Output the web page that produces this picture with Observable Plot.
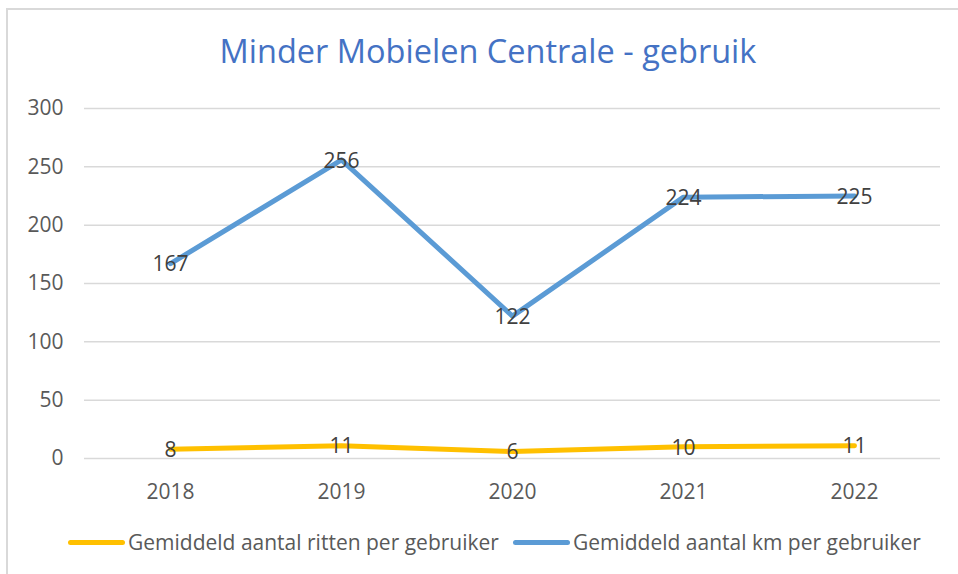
<!DOCTYPE html>
<html><head><meta charset="utf-8">
<script src="https://cdn.jsdelivr.net/npm/d3@7"></script>
<script src="https://cdn.jsdelivr.net/npm/@observablehq/plot@0.6"></script>
<style>
body{margin:0;background:#fff;}
#wrap{position:relative;width:958px;height:574px;overflow:hidden;font-family:"Open Sans",sans-serif;}
#frame{position:absolute;left:6px;top:8px;width:1000px;height:600px;border-top:2px solid #d9d9d9;border-left:2px solid #d9d9d9;}
#title{position:absolute;left:0;top:28px;width:976px;text-align:center;font-size:32.5px;color:#4472c4;line-height:46px;white-space:nowrap}
#plot{position:absolute;left:0;top:0}
#legend{position:absolute;top:527px;left:68px;display:flex;align-items:center;font-size:21px;color:#595959;white-space:nowrap;line-height:30px}
.sw{display:inline-block;width:57px;height:5px;border-radius:3px;margin-right:3px}
.item{display:flex;align-items:center;margin-right:14px}
</style></head>
<body>
<div id="wrap">
  <div id="frame"></div>
  <div id="plot"></div>
  <div id="title"></div>
  <div id="legend"></div>
</div>
<script>
const titleText = "Minder Mobielen Centrale - gebruik";
const years = ["2018", "2019", "2020", "2021", "2022"];
const ritten = [8, 11, 6, 10, 11];
const km = [167, 256, 122, 224, 225];
const yTicks = [0, 50, 100, 150, 200, 250, 300];
const seriesNames = ["Gemiddeld aantal ritten per gebruiker", "Gemiddeld aantal km per gebruiker"];
const seriesColors = ["#FFC000", "#5B9BD5"];

const rows = [];
years.forEach((y, i) => {
  rows.push({year: y, value: ritten[i], series: seriesNames[0]});
  rows.push({year: y, value: km[i], series: seriesNames[1]});
});

const chart = Plot.plot({
  width: 958,
  height: 574,
  marginLeft: 84,
  marginRight: 18,
  marginTop: 108,
  marginBottom: 116,
  style: {fontFamily: "'Open Sans', sans-serif", color: "#595959", background: "transparent", overflow: "visible"},
  x: {type: "point", domain: years, padding: 0.5, label: null},
  y: {domain: [0, 300], label: null},
  color: {domain: seriesNames, range: seriesColors},
  marks: [
    Plot.gridY(yTicks, {stroke: "#d9d9d9", strokeOpacity: 1, strokeWidth: 1.5}),
    Plot.axisY(yTicks, {tickSize: 0, tickPadding: 21, fontSize: 21, label: null, fill: "#595959"}),
    Plot.axisX(years, {tickSize: 0, tickPadding: 26, fontSize: 21, label: null, fill: "#595959"}),
    Plot.lineY(rows, {x: "year", y: "value", z: "series", stroke: "series", strokeWidth: 5, strokeLinejoin: "round", strokeLinecap: "round"}),
    Plot.text(rows, {x: "year", y: "value", text: d => String(d.value), fill: "#404040", fontSize: 21, dy: 1})
  ]
});
document.getElementById("plot").appendChild(chart);
document.getElementById("title").textContent = titleText;

const legend = document.getElementById("legend");
seriesNames.forEach((name, i) => {
  const item = document.createElement("span");
  item.className = "item";
  const sw = document.createElement("span");
  sw.className = "sw";
  sw.style.background = seriesColors[i];
  const t = document.createElement("span");
  t.textContent = name;
  item.appendChild(sw);
  item.appendChild(t);
  legend.appendChild(item);
});
</script>
</body></html>
